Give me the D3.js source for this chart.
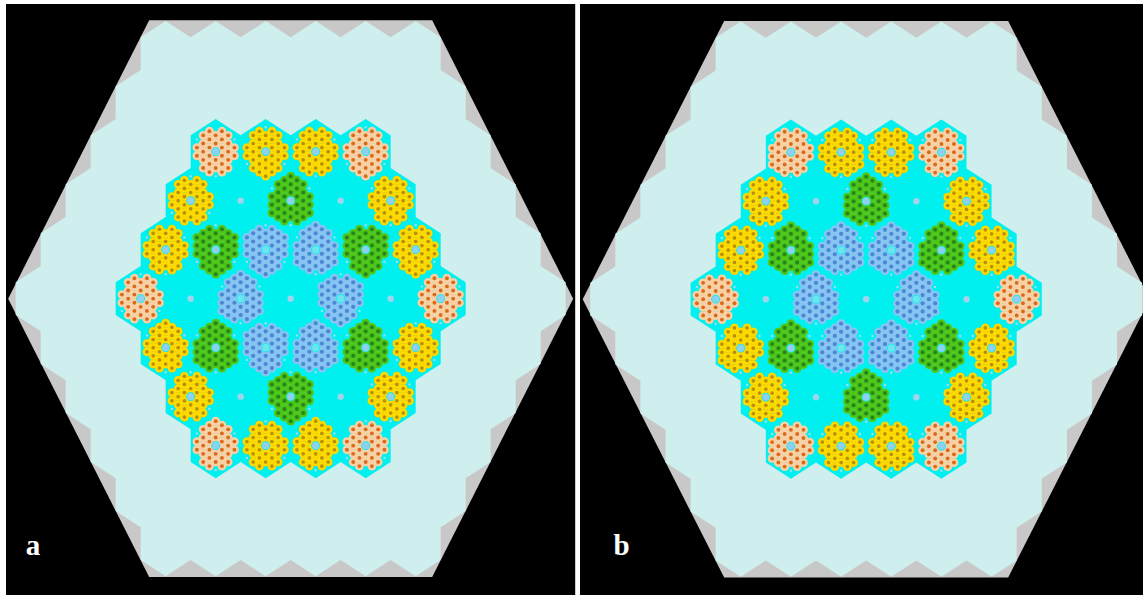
<!DOCTYPE html>
<html>
<head>
<meta charset="utf-8">
<script src="https://cdn.jsdelivr.net/npm/d3@7"></script>
<style>
html, body { margin: 0; padding: 0; background: #fff; }
svg { display: block; }
</style>
</head>
<body>
<script>
// assembly types per core row: O orange, Y yellow, G green, B blue, W water only
var coreTypes = [
    ['O', 'Y', 'Y', 'O'],
    ['Y', 'W', 'G', 'W', 'Y'],
    ['Y', 'G', 'B', 'B', 'G', 'Y'],
    ['O', 'W', 'B', 'W', 'B', 'W', 'O'],
    ['Y', 'G', 'B', 'B', 'G', 'Y'],
    ['Y', 'W', 'G', 'W', 'Y'],
    ['O', 'Y', 'Y', 'O']
];

// u: small dots at TL, TR, B / d: small dots at T, BL, BR
var orientA = [
    ['u', 'd', 'u', 'd'],
    ['d', '', 'u', '', 'u'],
    ['u', 'd', 'd', 'u', 'd', 'd'],
    ['d', '', 'u', '', 'd', '', 'u'],
    ['u', 'u', 'd', 'u', 'u', 'd'],
    ['d', '', 'd', '', 'u'],
    ['u', 'd', 'u', 'd']
];
var orientB = [
    ['u', 'u', 'u', 'u'],
    ['u', '', 'u', '', 'u'],
    ['u', 'u', 'u', 'u', 'u', 'u'],
    ['u', '', 'u', '', 'u', '', 'u'],
    ['u', 'u', 'u', 'u', 'u', 'u'],
    ['u', '', 'u', '', 'u'],
    ['u', 'u', 'u', 'u']
];

// which corner rods each assembly has
var UP = 'T BL BR', DOWN = 'B TL TR';
var cornersA = [
    ['', 'B', '', 'B'],
    ['', '', UP, '', ''],
    ['', DOWN, DOWN, UP, DOWN, 'B'],
    ['', '', UP, '', DOWN, '', ''],
    ['T', UP, DOWN, UP, UP, ''],
    ['', '', DOWN, '', ''],
    ['T', '', 'T', '']
];
var cornersB = [
    ['BL', 'BR', '', ''],
    ['', '', UP, '', ''],
    ['', UP, UP, UP, UP, 'BR'],
    ['', '', UP, '', UP, '', ''],
    ['BL', UP, UP, UP, UP, ''],
    ['', '', UP, '', ''],
    ['BL', '', 'BR', '']
];

// reflector hexes per row, from top to bottom
var reflectorCounts = [6, 7, 8, 9, 10, 11, 10, 9, 8, 7, 6];
var rowIndex = [-5, -4, -3, -2, -1, 0, 1, 2, 3, 4, 5];
var cornerOffsets = { T: [0, -3], TR: [3, -1.5], BR: [3, 1.5], B: [0, 3], BL: [-3, 1.5], TL: [-3, -1.5] };
var labels = ['a', 'b'];

var colors = {
    O: { edge: '#f6cc9c', fill: '#f8d2a6', core: '#d96a1e', hole: '#8fd0ee', r: 1.95 },
    Y: { edge: '#eccb00', fill: '#ffdc00', core: '#b8900c', hole: '#8fd0ee', r: 1.85 },
    G: { edge: '#62d022', fill: '#4cc41a', core: '#24851a', hole: '#8fd0ee', r: 2.0 },
    B: { edge: '#8ec6f4', fill: '#88c4f2', core: '#4a88d4', hole: '#70e4ee', r: 2.1 }
};
var panels = [
    { x0: 6, x1: 575, cx: 290.67, cy: 298.67, pitch: 50, orient: orientA, corners: cornersA },
    { x0: 580, x1: 1143, cx: 866.17, cy: 299.2, pitch: 50.17, orient: orientB, corners: cornersB }
];

var width = 1143;
var height = 595;
var svg = d3.select('body').append('svg').attr('width', width).attr('height', height);
var line = d3.line();

panels.forEach(function(p, i) { drawPanel(p, labels[i]); });

function drawPanel(p, label) {
    // lattice units: half pitch across, one row down
    var x = d3.scaleLinear().domain([0, 1]).range([p.cx, p.cx + p.pitch / 2]);
    var y = d3.scaleLinear().domain([0, 1]).range([p.cy, p.cy + 49]);
    var rodX = d3.scaleLinear().domain([0, 1]).range([0, p.pitch / 8]);
    var rodY = d3.scaleLinear().domain([0, 1]).range([0, 49 / 6]);

    svg.append('rect').attr('x', p.x0).attr('y', 4)
        .attr('width', p.x1 - p.x0).attr('height', height - 4).attr('fill', '#000');
    var clipId = 'clip' + label;
    svg.append('clipPath').attr('id', clipId).append('rect')
        .attr('x', p.x0).attr('y', 4).attr('width', p.x1 - p.x0).attr('height', height - 4);
    var g = svg.append('g').attr('clip-path', 'url(#' + clipId + ')');

    g.append('path').attr('fill', '#c8c8c8').attr('d', line([
        [x(-5.66), y(-5.68)], [x(5.66), y(-5.68)], [x(11.3), y(0)],
        [x(5.66), y(5.68)], [x(-5.66), y(5.68)], [x(-11.3), y(0)]
    ]) + 'Z');

    function hexPath(col, row) {
        return line([[col, row - 2 / 3], [col + 1, row - 1 / 3], [col + 1, row + 1 / 3],
            [col, row + 2 / 3], [col - 1, row + 1 / 3], [col - 1, row - 1 / 3]]
            .map(function(d) { return [x(d[0]), y(d[1])]; })) + 'Z';
    }

    // all hexes of a region go into one path so no seams show between them
    var reflector = '';
    reflectorCounts.forEach(function(n, r) {
        d3.range(n).forEach(function(k) { reflector += hexPath(2 * k - n + 1, rowIndex[r]); });
    });
    g.append('path').attr('d', reflector).attr('fill', '#cfeeee');

    var core = '';
    coreTypes.forEach(function(rowTypes, r) {
        rowTypes.forEach(function(t, k) { core += hexPath(2 * k - rowTypes.length + 1, r - 3); });
    });
    g.append('path').attr('d', core).attr('fill', '#00f0f0');

    coreTypes.forEach(function(rowTypes, r) {
        rowTypes.forEach(function(t, k) {
            var ax = x(2 * k - rowTypes.length + 1);
            var ay = y(r - 3);
            if (t === 'W') {
                g.append('circle').attr('cx', ax).attr('cy', ay).attr('r', 3.2).attr('fill', '#a0d4ec');
            } else {
                drawAssembly(g.append('g').attr('transform', 'translate(' + ax + ',' + ay + ')'),
                    t, p.orient[r][k], p.corners[r][k], rodX, rodY);
            }
        });
    });

    svg.append('text').attr('x', label === 'a' ? 33 : 621.5).attr('y', 555)
        .attr('text-anchor', 'middle').attr('fill', '#fff')
        .style('font-family', '"Liberation Serif", serif').style('font-weight', 'bold')
        .style('font-size', '29px').text(label);
}

function rodPositions(cornerText) {
    var have = cornerText.split(' ').filter(Boolean);
    var out = [];
    d3.range(-3, 4).forEach(function(c) {
        var limit = 3 - Math.abs(c) / 2;
        d3.range(-limit, limit + 1).forEach(function(v) {
            if (c === 0 && v === 0) return;
            var corner = Math.abs(c) === 3 && Math.abs(v) === 1.5 || (c === 0 && Math.abs(v) === 3);
            if (!corner) out.push([c, v]);
        });
    });
    have.forEach(function(h) { out.push(cornerOffsets[h]); });
    return out;
}

function drawAssembly(a, type, orient, cornerText, rodX, rodY) {
    var c = colors[type];
    var rods = rodPositions(cornerText);
    var layers = [[4.4, c.edge], [3.9, c.fill], [c.r, c.core]];
    layers.forEach(function(layer) {
        a.selectAll(null).data(rods).enter().append('circle')
            .attr('cx', function(d) { return rodX(d[0]); })
            .attr('cy', function(d) { return rodY(d[1]); })
            .attr('r', layer[0]).attr('fill', layer[1]);
    });
    a.append('circle').attr('r', 4.4).attr('fill', '#00f0f0');
    a.append('circle').attr('r', 3.6).attr('fill', c.hole);

    var dots = orient === 'u' ? ['TL', 'TR', 'B'] : ['T', 'BL', 'BR'];
    a.selectAll(null).data(dots).enter().append('circle')
        .attr('cx', function(d) { return rodX(cornerOffsets[d][0]); })
        .attr('cy', function(d) { return rodY(cornerOffsets[d][1]); })
        .attr('r', 1.2).attr('fill', '#9fdcf0');
}

svg.append('rect').attr('x', 575).attr('y', 4).attr('width', 1).attr('height', height - 4).attr('fill', '#cccccc');
</script>
</body>
</html>
